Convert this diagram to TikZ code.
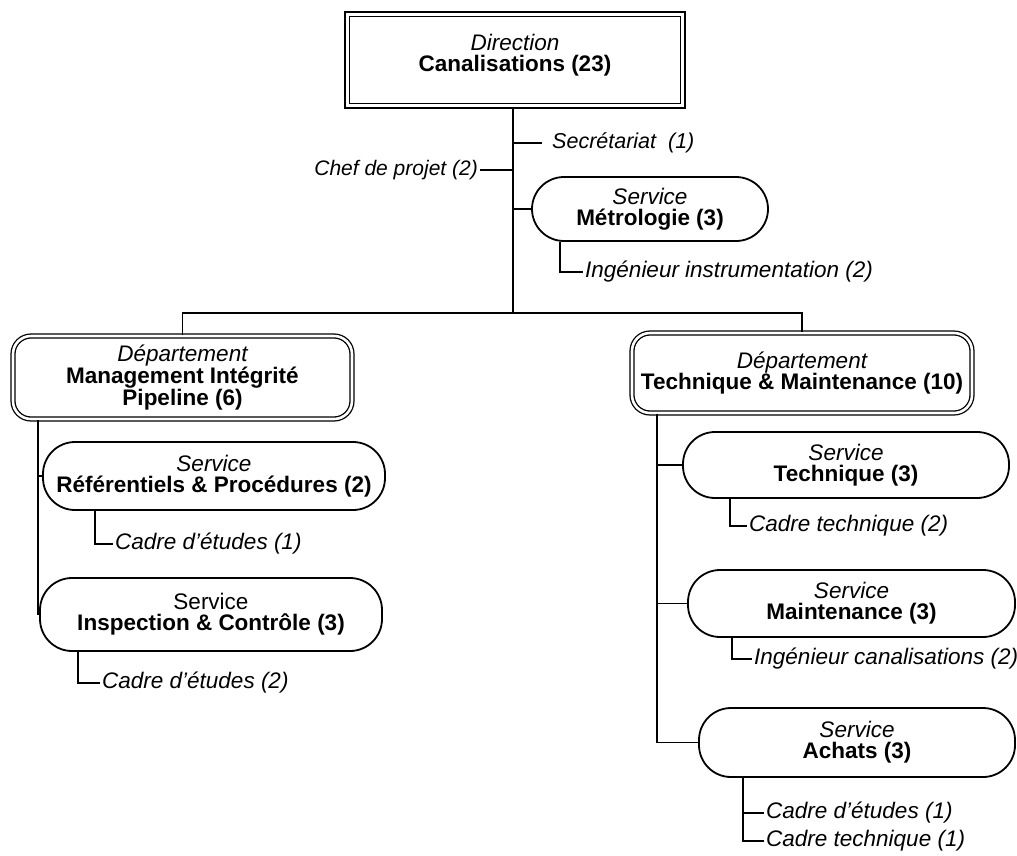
\documentclass[tikz,border=0pt]{standalone}
\usepackage{fontspec}
\setmainfont{Liberation Sans}
\begin{document}
\begin{tikzpicture}[x=1pt,y=-1pt,
  every node/.style={font=\fontsize{22.5}{21}\selectfont},
  link/.style={line width=1.9pt},
  dirbox/.style={draw, line width=2.6pt, align=center, inner sep=2pt},
  deptbox/.style={draw, double, double distance=2.6pt, line width=1.3pt,
    rounded corners=18pt, align=center, inner sep=2pt},
  svc/.style={draw, line width=1.8pt, rounded corners=32pt, align=center, inner sep=2pt},
  lbl/.style={inner sep=2pt, font=\fontsize{22.5}{21}\selectfont\itshape}
]
\useasboundingbox (0,0) rectangle (1017,855);

% Direction
\node[dirbox, minimum width=340pt, minimum height=96pt, text depth=14pt] (dir) at (515,60)
  {{\itshape Direction}\\{\bfseries Canalisations (23)}};
\draw[line width=1pt] ([shift={(6,6)}]dir.north west) rectangle ([shift={(-6,-6)}]dir.south east);

% Staff attached to the direction
\coordinate (bar) at (513,313);
\node[lbl, anchor=west, font=\fontsize{21.5}{21}\selectfont\itshape] (sec) at (550,143) {Secrétariat \ (1)};
\node[lbl, anchor=east, font=\fontsize{21}{21}\selectfont\itshape] (chef) at (480,170) {Chef de projet (2)};
\node[svc, minimum width=236pt, minimum height=64pt] (met) at (650,209)
  {{\itshape Service}\\{\bfseries Métrologie (3)}};
\node[lbl, anchor=west] (ing1) at (583,272) {Ingénieur instrumentation (2)};

% Departments
\node[deptbox, minimum width=339pt, minimum height=83pt] (mip) at (182.5,377.5)
  {{\itshape Département}\\{\bfseries Management Intégrité}\\{\bfseries Pipeline (6)}};
\node[deptbox, minimum width=340pt, minimum height=80pt] (tm) at (802,373)
  {{\itshape Département}\\{\bfseries Technique \& Maintenance (10)}};

% Services of the left department
\node[svc, minimum width=342pt, minimum height=68pt] (ref) at (214,476)
  {{\itshape Service}\\{\bfseries Référentiels \& Procédures (2)}};
\node[lbl, anchor=west] (cde1) at (113,544) {Cadre d’études (1)};
\node[svc, minimum width=342pt, minimum height=73pt] (insp) at (211,614.5)
  {Service\\{\bfseries Inspection \& Contrôle (3)}};
\node[lbl, anchor=west] (cde2) at (100,683) {Cadre d’études (2)};

% Services of the right department
\node[svc, minimum width=326pt, minimum height=66pt] (tech) at (846,465)
  {{\itshape Service}\\{\bfseries Technique (3)}};
\node[lbl, anchor=west] (ct2) at (747,526) {Cadre technique (2)};
\node[svc, minimum width=327pt, minimum height=67pt] (maint) at (851.5,603.5)
  {{\itshape Service}\\{\bfseries Maintenance (3)}};
\node[lbl, anchor=west] (ingc) at (752,659) {Ingénieur canalisations (2)};
\node[svc, minimum width=316pt, minimum height=69pt] (ach) at (857,742.5)
  {{\itshape Service}\\{\bfseries Achats (3)}};
\node[lbl, anchor=west] (cde3) at (764,813) {Cadre d’études (1)};
\node[lbl, anchor=west] (ct1) at (764,841) {Cadre technique (1)};

% Connectors
\draw[link] (dir.south -| bar) -- (bar);
\draw[link] (sec.west -| bar) -- ([xshift=-8pt]sec.west);
\draw[link] (chef.east) -- (chef.east -| bar);
\draw[link] (met.west -| bar) -- (met.west);
\draw[link] (met.south -| 560,0) |- (ing1.west);
\draw[link] (mip.north) -- (mip.north |- bar) -- (tm.north |- bar) -- (tm.north);

\draw[link] (mip.south -| 38,0) |- (insp.west);
\draw[link] (ref.west -| 38,0) -- (ref.west);
\draw[link] (ref.south -| 95,0) |- (cde1.west);
\draw[link] (insp.south -| 78,0) |- (cde2.west);

\draw[link] (tm.south -| 657,0) |- (ach.west);
\draw[link] (tech.west -| 657,0) -- (tech.west);
\draw[link] (maint.west -| 657,0) -- (maint.west);
\draw[link] (tech.south -| 730,0) |- (ct2.west);
\draw[link] (maint.south -| 732,0) |- (ingc.west);
\draw[link] (ach.south -| 743,0) |- (ct1.west);
\draw[link] (cde3.west -| 743,0) -- (cde3.west);
\end{tikzpicture}
\end{document}
